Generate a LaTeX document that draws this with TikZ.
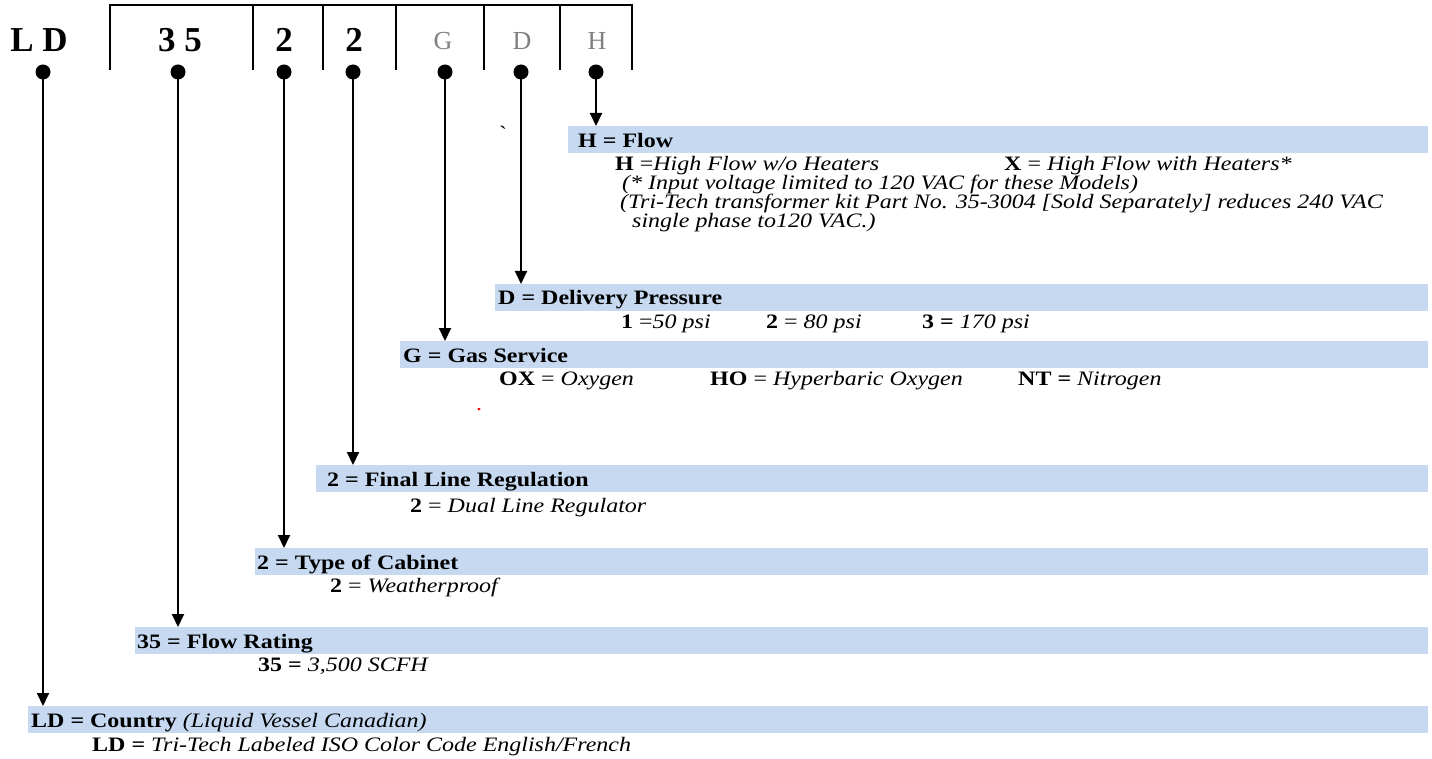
\documentclass[tikz,border=0pt]{standalone}
\usepackage{fontspec}
\setmainfont{Liberation Serif}
\newfontfamily\bodyfont{Liberation Serif}[FakeStretch=1.17]
\usetikzlibrary{arrows.meta}
\definecolor{barblue}{RGB}{198,217,241}
\definecolor{hdrgray}{RGB}{128,128,128}
\tikzset{
  dot/.style={circle,fill=black,inner sep=0pt,minimum size=15pt},
  arr/.style={line width=2pt,-{Triangle[length=13pt,width=12pt]}},
  frame/.style={line width=2.2pt},
  bar/.style={fill=barblue,draw=none,anchor=north west,inner sep=0pt,minimum height=27pt},
  hdr/.style={anchor=base,inner sep=0pt,font=\fontsize{35}{40}\selectfont\bfseries},
  hdrg/.style={anchor=base,inner sep=0pt,text=hdrgray,font=\fontsize{26}{30}\selectfont},
  ttl/.style={anchor=base west,inner sep=0pt,font=\bodyfont\fontsize{20.5}{22}\selectfont\bfseries},
  txt/.style={anchor=base west,inner sep=0pt,font=\bodyfont\fontsize{20.5}{22}\selectfont},
}
\begin{document}
\begin{tikzpicture}[x=1pt,y=-1pt]
\useasboundingbox (0,0) rectangle (1432,759);
% header frame
\draw[frame] (110,70) -- (110,5) -- (632,5) -- (632,70);
\foreach \xx in {253,323,396,484,560} \draw[frame] (\xx,5) -- (\xx,70);
% header labels
\node[hdr] (hLD) at (39,52) {L D};
\node[hdr] (h35) at (180,52) {3 5};
\node[hdr] (h2a) at (284,52) {2};
\node[hdr] (h2b) at (354,52) {2};
\node[hdrg] (hG) at (443,50) {G};
\node[hdrg] (hD) at (522,50) {D};
\node[hdrg] (hH) at (597,50) {H};
% dots
\node[dot] (dLD) at (43,72) {};
\node[dot] (d35) at (178,72) {};
\node[dot] (d2a) at (284,72) {};
\node[dot] (d2b) at (353,72) {};
\node[dot] (dG) at (445,72) {};
\node[dot] (dD) at (521,72) {};
\node[dot] (dH) at (596,72) {};
% bars
\node[bar,minimum width=860pt] (bH) at (568,126) {};
\node[bar,minimum width=933pt] (bD) at (495,284) {};
\node[bar,minimum width=1028pt] (bG) at (400,341) {};
\node[bar,minimum width=1112pt] (bF) at (316,465) {};
\node[bar,minimum width=1173pt] (bT) at (255,548) {};
\node[bar,minimum width=1293pt] (bR) at (135,627) {};
\node[bar,minimum width=1400pt] (bC) at (28,706) {};
% arrows
\draw[arr] (dH.center) -- (dH.center |- bH.north);
\draw[arr] (dD.center) -- (dD.center |- bD.north);
\draw[arr] (dG.center) -- (dG.center |- bG.north);
\draw[arr] (d2b.center) -- (d2b.center |- bF.north);
\draw[arr] (d2a.center) -- (d2a.center |- bT.north);
\draw[arr] (d35.center) -- (d35.center |- bR.north);
\draw[arr] (dLD.center) -- (dLD.center |- bC.north);
% H = Flow
\node[ttl] (tH) at (578,148) {H = Flow};
\node[txt] (tH1) at (615,171) {\textbf{H} =\textit{High Flow w/o Heaters}};
\node[txt] (tH2) at (1004,171) {\textbf{X} = \textit{High Flow with Heaters*}};
\node[txt] (tH3) at (622,190) {\textit{(* Input voltage limited to 120 VAC for these Models)}};
\node[txt] (tH4) at (620,209) {\textit{(Tri-Tech transformer kit Part No. 35-3004 [Sold Separately] reduces 240 VAC}};
\node[txt] (tH5) at (632,228) {\textit{single phase to120 VAC.)}};
\node[txt] (tick) at (499,141) {\textasciigrave};
% D
\node[ttl] (tD) at (498,305) {D = Delivery Pressure};
\node[txt] (tD1) at (621,328) {\textbf{1} =\textit{50 psi}};
\node[txt] (tD2) at (766,328) {\textbf{2} = \textit{80 psi}};
\node[txt] (tD3) at (922,328) {\textbf{3 =} \textit{170 psi}};
% G
\node[ttl] (tG) at (403,362) {G = Gas Service};
\node[txt] (tG1) at (499,385) {\textbf{OX} = \textit{Oxygen}};
\node[txt] (tG2) at (710,385) {\textbf{HO} = \textit{Hyperbaric Oxygen}};
\node[txt] (tG3) at (1018,385) {\textbf{NT =} \textit{Nitrogen}};
\node[txt,text=red] (red) at (476,410) {.};
% Final line regulation
\node[ttl] (tF) at (327,486) {2 = Final Line Regulation};
\node[txt] (tF1) at (410,512) {\textbf{2} = \textit{Dual Line Regulator}};
% Type of cabinet
\node[ttl] (tT) at (257,569) {2 = Type of Cabinet};
\node[txt] (tT1) at (330,592) {\textbf{2} = \textit{Weatherproof}};
% Flow rating
\node[ttl] (tR) at (137,648) {35 = Flow Rating};
\node[txt] (tR1) at (258,671) {\textbf{35 =} \textit{3,500 SCFH}};
% Country
\node[ttl] (tC) at (31,727) {LD = Country \textmd{\textit{(Liquid Vessel Canadian)}}};
\node[txt] (tC1) at (92,751) {\textbf{LD =} \textit{Tri-Tech Labeled ISO Color Code English/French}};
\end{tikzpicture}
\end{document}
